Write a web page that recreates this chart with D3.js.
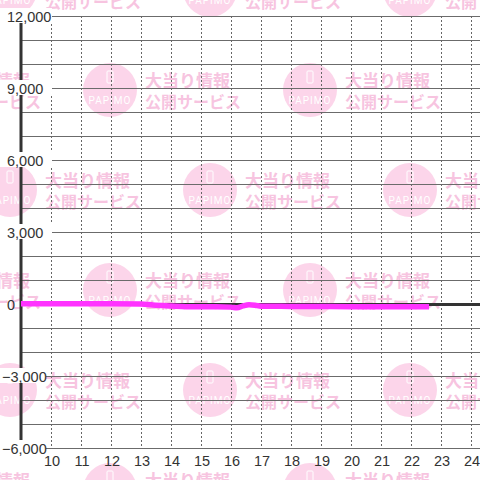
<!DOCTYPE html>
<html>
<head>
<meta charset="utf-8">
<script src="https://cdn.jsdelivr.net/npm/d3@7"></script>
<style>
  html, body { margin: 0; padding: 0; background: #fff; }
  svg { display: block; }
</style>
</head>
<body>
<div id="chart"></div>
<script>
// data (hour of day, difference in balls)
const hours = [9, 10, 11, 12, 13, 13.4, 14, 14.5, 15, 15.5, 16, 16.2, 16.4, 16.6, 16.8, 17, 18, 19, 20, 21, 22, 22.6];
const diffs = [10, 10, 10, 10, 0, -40, -80, -110, -110, -110, -130, -160, -80, -30, -50, -95, -100, -105, -110, -110, -110, -110];
const xTicks = [10, 11, 12, 13, 14, 15, 16, 17, 18, 19, 20, 21, 22, 23, 24];
const yLabelTicks = [12000, 9000, 6000, 3000, 0, -3000, -6000];
const yGridTicks = d3.range(-6000, 12001, 1000);

const W = 480, H = 480;
const x = d3.scaleLinear().domain([9, 24 + 1 / 3]).range([21, 481]);
const y = d3.scaleLinear().domain([-6000, 12000]).range([448, 16]);

const svg = d3.select("#chart").append("svg")
    .attr("width", W)
    .attr("height", H);

svg.append("rect").attr("width", W).attr("height", H).attr("fill", "#fff");

// watermark tiles
const wm = svg.append("g");
const marks = [];
[-10, 90, 190, 290, 390, 490].forEach((cy, r) => {
    const start = r % 2 === 0 ? 10 : -90;
    for (let cx = start; cx < 520; cx += 200) marks.push([cx, cy]);
});
marks.forEach(([cx, cy]) => {
    const g = wm.append("g").attr("transform", `translate(${cx},${cy})`);
    g.append("circle").attr("r", 27).attr("fill", "#fcd5ea");
    g.append("rect").attr("x", -3).attr("y", -19).attr("width", 6).attr("height", 12)
        .attr("rx", 1).attr("fill", "none").attr("stroke", "#fff").attr("stroke-width", 1);
    g.append("text").attr("y", 14).attr("text-anchor", "middle")
        .attr("font-family", "Roboto, sans-serif").attr("font-size", 10)
        .attr("letter-spacing", 1).attr("fill", "#fff").text("PAPIMO");
    g.append("text").attr("x", 35).attr("y", -3)
        .attr("font-family", "'Noto Sans CJK JP', sans-serif").attr("font-weight", "bold")
        .attr("font-size", 17).attr("fill", "#f7c4e0").text("大当り情報");
    g.append("text").attr("x", 35).attr("y", 18)
        .attr("font-family", "'Noto Sans CJK JP', sans-serif").attr("font-weight", "bold")
        .attr("font-size", 16).attr("fill", "#f7c4e0").text("公開サービス");
});

// horizontal grid
svg.append("g")
    .selectAll("line")
    .data(yGridTicks)
    .join("line")
    .attr("x1", 21).attr("x2", W)
    .attr("y1", d => Math.round(y(d)) + 0.5)
    .attr("y2", d => Math.round(y(d)) + 0.5)
    .attr("stroke", "#6b6b6b")
    .attr("stroke-width", 1);

// vertical dashed grid
svg.append("g")
    .selectAll("line")
    .data(xTicks)
    .join("line")
    .attr("x1", d => Math.round(x(d)) + 0.5)
    .attr("x2", d => Math.round(x(d)) + 0.5)
    .attr("y1", y(12000)).attr("y2", y(-6000))
    .attr("stroke", "#666")
    .attr("stroke-dasharray", "2,2");

// axes
svg.append("line")
    .attr("x1", 21).attr("x2", 21)
    .attr("y1", y(12000)).attr("y2", y(-6000))
    .attr("stroke", "#333").attr("stroke-width", 3);
svg.append("line")
    .attr("x1", 21).attr("x2", W)
    .attr("y1", y(0) + 0.5).attr("y2", y(0) + 0.5)
    .attr("stroke", "#333").attr("stroke-width", 3);

// y labels with white boxes
const yl = svg.append("g")
    .selectAll("g")
    .data(yLabelTicks)
    .join("g")
    .attr("transform", d => `translate(0,${y(d)})`);
yl.filter(d => d !== 0).append("rect")
    .attr("x", 0).attr("y", -8).attr("width", d => d < 0 ? 46 : 52).attr("height", 15)
    .attr("fill", "#fff");
yl.append("text")
    .attr("x", d => d < 0 ? 2 : 7)
    .attr("y", 6)
    .attr("font-family", "'Liberation Sans', Arial, sans-serif")
    .attr("font-size", 14.5)
    .attr("fill", "#333")
    .text(d => d3.format(",")(d));

// x labels
svg.append("g")
    .selectAll("text")
    .data(xTicks)
    .join("text")
    .attr("x", d => x(d) + 1)
    .attr("y", 466)
    .attr("text-anchor", "middle")
    .attr("font-family", "'Liberation Sans', Arial, sans-serif")
    .attr("font-size", 14.5)
    .attr("fill", "#333")
    .text(d => d);

// the series
const line = d3.line()
    .x((d, i) => x(hours[i]))
    .y(d => y(d))
    .curve(d3.curveMonotoneX);
svg.append("path")
    .datum(diffs)
    .attr("fill", "none")
    .attr("stroke", "#ff33ff")
    .attr("stroke-width", 5.5)
    .attr("d", line);
</script>
</body>
</html>
